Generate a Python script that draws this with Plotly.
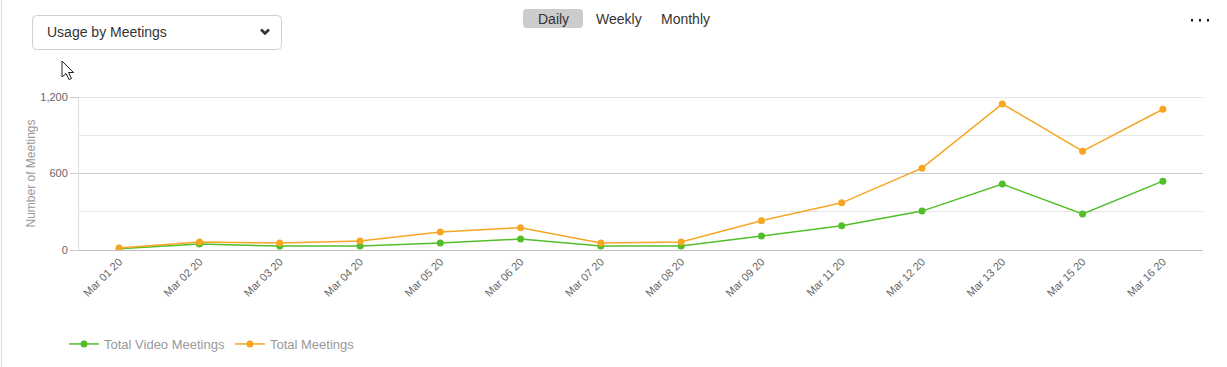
import plotly.graph_objects as go

categories = ["Mar 01 20", "Mar 02 20", "Mar 03 20", "Mar 04 20", "Mar 05 20", "Mar 06 20",
              "Mar 07 20", "Mar 08 20", "Mar 09 20", "Mar 11 20", "Mar 12 20", "Mar 13 20",
              "Mar 15 20", "Mar 16 20"]
video_meetings = [10, 47, 31, 31, 55, 86, 31, 31, 110, 190, 305, 517, 282, 540]
total_meetings = [15, 63, 55, 70, 141, 175, 55, 63, 230, 370, 642, 1146, 775, 1104]
y_ticks = [0, 600, 1200]
y_tick_labels = ["0", "600", "1,200"]

W, H = 1227, 367
L, R, T, B = 79, 1203, 97, 250

def px(x):
    return (x - L) / (R - L)

def py(y):
    return (B - y) / (B - T)

GREEN = "#52bf2a"
ORANGE = "#f6a623"
FONT = "Liberation Sans, Arial, sans-serif"

fig = go.Figure()
fig.add_trace(go.Scatter(x=categories, y=video_meetings, name="Total Video Meetings",
                         mode="lines+markers", line=dict(color=GREEN, width=1.5),
                         marker=dict(color=GREEN, size=7)))
fig.add_trace(go.Scatter(x=categories, y=total_meetings, name="Total Meetings",
                         mode="lines+markers", line=dict(color=ORANGE, width=1.5),
                         marker=dict(color=ORANGE, size=7)))

shapes = []
# top gridline at 1200
shapes.append(dict(type="line", xref="paper", yref="y", x0=0, x1=1, y0=1200, y1=1200,
                   line=dict(color="#cccccc", width=1), layer="below"))
# left page border
shapes.append(dict(type="line", xref="paper", yref="paper", x0=px(1.5), x1=px(1.5), y0=py(0), y1=py(367),
                   line=dict(color="#dddddd", width=1), layer="above"))

def rounded(x0, y0, x1, y1, r):
    return (f"M {px(x0+r)},{py(y0)} L {px(x1-r)},{py(y0)} Q {px(x1)},{py(y0)} {px(x1)},{py(y0+r)} "
            f"L {px(x1)},{py(y1-r)} Q {px(x1)},{py(y1)} {px(x1-r)},{py(y1)} "
            f"L {px(x0+r)},{py(y1)} Q {px(x0)},{py(y1)} {px(x0)},{py(y1-r)} "
            f"L {px(x0)},{py(y0+r)} Q {px(x0)},{py(y0)} {px(x0+r)},{py(y0)} Z")

# dropdown box
shapes.append(dict(type="path", xref="paper", yref="paper", path=rounded(32.5, 15.5, 281.5, 49.5, 4),
                   line=dict(color="#d0d0d0", width=1), fillcolor="white"))
# chevron
shapes.append(dict(type="path", xref="paper", yref="paper",
                   path=f"M {px(261)},{py(29.5)} L {px(265)},{py(33.5)} L {px(269)},{py(29.5)}",
                   line=dict(color="#333333", width=2.6)))
# Daily button bg
shapes.append(dict(type="path", xref="paper", yref="paper", path=rounded(523, 9, 583, 28, 4),
                   line=dict(width=0), fillcolor="#cccccc"))
# three dots
for dx in [1191, 1199, 1207]:
    shapes.append(dict(type="rect", xref="paper", yref="paper", x0=px(dx), x1=px(dx + 2),
                       y0=py(19), y1=py(21.5), line=dict(width=0), fillcolor="#111111"))
# cursor arrow
cx, cy = 62, 61
pts = [(0, 0), (0, 16), (4, 12.5), (7, 18.5), (9.5, 17.5), (6.5, 11.5), (11.5, 11.5)]
path = "M " + " L ".join(f"{px(cx+a)},{py(cy+b)}" for a, b in pts) + " Z"
shapes.append(dict(type="path", xref="paper", yref="paper", path=path,
                   line=dict(color="#222222", width=1), fillcolor="white"))

annotations = [
    dict(text="Usage by Meetings", x=px(45), y=py(32.5), xref="paper", yref="paper",
         xanchor="left", yanchor="middle", showarrow=False,
         font=dict(family=FONT, size=14, color="#333333")),
    dict(text="Daily", x=px(553), y=py(18.5), xref="paper", yref="paper",
         xanchor="center", yanchor="middle", showarrow=False,
         font=dict(family=FONT, size=14, color="#333333")),
    dict(text="Weekly", x=px(619), y=py(18.5), xref="paper", yref="paper",
         xanchor="center", yanchor="middle", showarrow=False,
         font=dict(family=FONT, size=14, color="#333333")),
    dict(text="Monthly", x=px(685), y=py(18.5), xref="paper", yref="paper",
         xanchor="center", yanchor="middle", showarrow=False,
         font=dict(family=FONT, size=14, color="#333333")),
]

fig.update_layout(
    width=W, height=H,
    margin=dict(l=L, r=W - R, t=T, b=H - B, pad=0, autoexpand=False),
    paper_bgcolor="white", plot_bgcolor="white",
    font=dict(family=FONT, size=11, color="#666666"),
    showlegend=True,
    legend=dict(orientation="h", x=px(64), y=py(344), xanchor="left", yanchor="middle",
                font=dict(family=FONT, size=13, color="#999999"), itemwidth=30,
                traceorder="normal"),
    xaxis=dict(type="category", categoryorder="array", categoryarray=categories,
               range=[-0.5, len(categories) - 0.5], tickangle=-45, automargin=False,
               showgrid=False, showline=True, linecolor="#c0c0c0", linewidth=1,
               ticks="", tickfont=dict(size=11, color="#666666"), zeroline=False,
               fixedrange=True),
    yaxis=dict(range=[0, 1200], tickvals=y_ticks, ticktext=y_tick_labels, automargin=False,
               showgrid=True, gridcolor="#cccccc", gridwidth=1,
               minor=dict(dtick=300, tick0=0, showgrid=True, gridcolor="#e6e6e6", ticks=""),
               showline=True, linecolor="#dddddd", linewidth=1, mirror=False,
               ticks="outside", ticklen=8, tickcolor="#cccccc", zeroline=False,
               tickfont=dict(size=11, color="#666666"),
               title=dict(text="Number of Meetings", font=dict(size=12, color="#999999"), standoff=2),
               fixedrange=True),
    shapes=shapes, annotations=annotations,
)

fig.write_html("out.html", config={"displayModeBar": False},
               post_script="document.body.style.margin='0';document.body.style.overflow='hidden';")
